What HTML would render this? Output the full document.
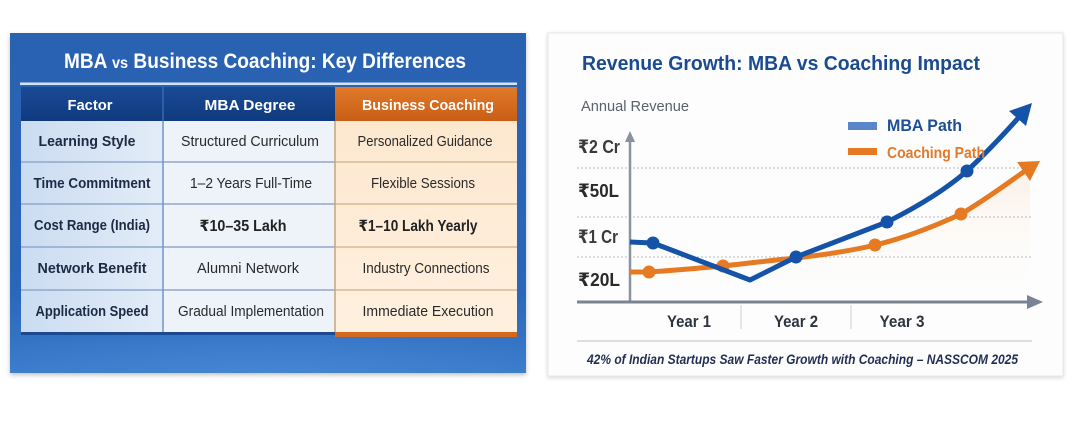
<!DOCTYPE html>
<html><head><meta charset="utf-8">
<style>
html,body{margin:0;padding:0;background:#fff;width:1075px;height:431px;overflow:hidden;}
svg{display:block;}
text{font-family:"Liberation Sans","DejaVu Sans",sans-serif;}
</style></head>
<body>
<svg width="1075" height="431" viewBox="0 0 1075 431" xmlns="http://www.w3.org/2000/svg">
<defs>
  <linearGradient id="lp" x1="0" y1="0" x2="0" y2="1">
    <stop offset="0" stop-color="#2a62b2"/>
    <stop offset="0.75" stop-color="#2a66b9"/>
    <stop offset="1" stop-color="#3a7bcb"/>
  </linearGradient>
  <radialGradient id="glow" cx="0.5" cy="1" r="0.6">
    <stop offset="0" stop-color="#4a8ad6" stop-opacity="0.7"/>
    <stop offset="1" stop-color="#4a8ad6" stop-opacity="0"/>
  </radialGradient>
  <linearGradient id="hdrB" x1="0" y1="0" x2="0" y2="1">
    <stop offset="0" stop-color="#1a4a95"/>
    <stop offset="1" stop-color="#103a7f"/>
  </linearGradient>
  <linearGradient id="hdrO" x1="0" y1="0" x2="0" y2="1">
    <stop offset="0" stop-color="#e07a2a"/>
    <stop offset="1" stop-color="#c95e16"/>
  </linearGradient>
  <linearGradient id="c1" x1="0" y1="0" x2="1" y2="0">
    <stop offset="0" stop-color="#cbdcf1"/>
    <stop offset="1" stop-color="#e3ecf8"/>
  </linearGradient>
  <linearGradient id="c3" x1="0" y1="0" x2="0" y2="1">
    <stop offset="0" stop-color="#fde8cf"/>
    <stop offset="1" stop-color="#fff0df"/>
  </linearGradient>
  <linearGradient id="peach" x1="0" y1="0" x2="0" y2="1">
    <stop offset="0" stop-color="#fbe1c6" stop-opacity="0.45"/>
    <stop offset="1" stop-color="#ffffff" stop-opacity="0"/>
  </linearGradient>
  <filter id="sh" x="-5%" y="-5%" width="110%" height="115%">
    <feDropShadow dx="0" dy="2" stdDeviation="2.5" flood-color="#000" flood-opacity="0.25"/>
  </filter>
  <filter id="sh2" x="-5%" y="-5%" width="110%" height="115%">
    <feDropShadow dx="0" dy="1.5" stdDeviation="2" flood-color="#000" flood-opacity="0.15"/>
  </filter>
</defs>

<!-- LEFT PANEL -->
<rect x="10" y="33" width="516" height="340" fill="url(#lp)" filter="url(#sh)"/>
<rect x="10" y="290" width="516" height="83" fill="url(#glow)"/>
<text x="265" y="68" font-size="21" font-weight="bold" fill="#ffffff" text-anchor="middle" textLength="402" lengthAdjust="spacingAndGlyphs">MBA <tspan font-size="16">vs</tspan> Business Coaching: Key Differences</text>
<rect x="20" y="82.5" width="497" height="2.5" fill="#d4e4f7"/>

<!-- header -->
<rect x="21" y="87" width="314" height="34" fill="url(#hdrB)"/>
<rect x="335" y="87" width="182" height="34" fill="url(#hdrO)"/>
<line x1="163" y1="87" x2="163" y2="121" stroke="#3a68ad" stroke-width="1.5"/>
<text x="90" y="110" font-size="15" font-weight="bold" fill="#fff" text-anchor="middle" textLength="45" lengthAdjust="spacingAndGlyphs">Factor</text>
<text x="250" y="110" font-size="15" font-weight="bold" fill="#fff" text-anchor="middle" textLength="91" lengthAdjust="spacingAndGlyphs">MBA Degree</text>
<text x="428" y="110" font-size="15" font-weight="bold" fill="#fff" text-anchor="middle" textLength="132" lengthAdjust="spacingAndGlyphs">Business Coaching</text>

<!-- body columns -->
<rect x="21" y="121" width="142" height="211" fill="url(#c1)"/>
<rect x="163" y="121" width="172" height="211" fill="#eef2f9"/>
<rect x="335" y="121" width="182" height="211" fill="url(#c3)"/>
<g stroke="#8ea8cf" stroke-width="1.5">
  <line x1="21" y1="162" x2="335" y2="162"/>
  <line x1="21" y1="204" x2="335" y2="204"/>
  <line x1="21" y1="247" x2="335" y2="247"/>
  <line x1="21" y1="290" x2="335" y2="290"/>
</g>
<g stroke="#d8b994" stroke-width="1.5">
  <line x1="335" y1="162" x2="517" y2="162"/>
  <line x1="335" y1="204" x2="517" y2="204"/>
  <line x1="335" y1="247" x2="517" y2="247"/>
  <line x1="335" y1="290" x2="517" y2="290"/>
</g>
<line x1="163" y1="121" x2="163" y2="332" stroke="#7096c9" stroke-width="1.5"/>
<line x1="335" y1="121" x2="335" y2="332" stroke="#c8a47c" stroke-width="1.5"/>
<rect x="21" y="332" width="314" height="3" fill="#1c4a90"/>
<rect x="335" y="332" width="182" height="5" fill="#d2691e"/>

<!-- row text -->
<g font-size="14.5" fill="#1c2a44" font-weight="bold" text-anchor="middle">
  <text x="87" y="146" textLength="97" lengthAdjust="spacingAndGlyphs">Learning Style</text>
  <text x="92" y="188" textLength="117" lengthAdjust="spacingAndGlyphs">Time Commitment</text>
  <text x="92" y="230" textLength="116" lengthAdjust="spacingAndGlyphs">Cost Range (India)</text>
  <text x="92" y="273" textLength="109" lengthAdjust="spacingAndGlyphs">Network Benefit</text>
  <text x="92" y="316" textLength="113" lengthAdjust="spacingAndGlyphs">Application Speed</text>
</g>
<g font-size="14.5" fill="#2a2a2a" text-anchor="middle">
  <text x="250" y="146" textLength="138" lengthAdjust="spacingAndGlyphs">Structured Curriculum</text>
  <text x="251" y="188" textLength="122" lengthAdjust="spacingAndGlyphs">1–2 Years Full-Time</text>
  <text x="248" y="273" textLength="102" lengthAdjust="spacingAndGlyphs">Alumni Network</text>
  <text x="251" y="316" textLength="146" lengthAdjust="spacingAndGlyphs">Gradual Implementation</text>
  <text x="425" y="146" textLength="135" lengthAdjust="spacingAndGlyphs">Personalized Guidance</text>
  <text x="423" y="188" textLength="104" lengthAdjust="spacingAndGlyphs">Flexible Sessions</text>
  <text x="426" y="273" textLength="127" lengthAdjust="spacingAndGlyphs">Industry Connections</text>
  <text x="428" y="316" textLength="131" lengthAdjust="spacingAndGlyphs">Immediate Execution</text>
</g>
<g font-size="15.5" fill="#222" font-weight="bold" text-anchor="middle">
  <text x="243" y="231" textLength="87" lengthAdjust="spacingAndGlyphs">₹10–35 Lakh</text>
  <text x="418" y="231" textLength="119" lengthAdjust="spacingAndGlyphs">₹1–10 Lakh Yearly</text>
</g>

<!-- RIGHT PANEL -->
<rect x="548" y="33" width="515" height="343" fill="#fdfdfd" stroke="#e4e6ea" stroke-width="1" filter="url(#sh2)"/>
<text x="582" y="70" font-size="20.5" font-weight="bold" fill="#1a4b91" textLength="398" lengthAdjust="spacingAndGlyphs">Revenue Growth: MBA vs Coaching Impact</text>
<text x="581" y="111" font-size="15" fill="#5a606c" textLength="108" lengthAdjust="spacingAndGlyphs">Annual Revenue</text>

<path d="M630,272 L649,272 C680,270 700,268 723,266 C750,263 775,260 796,258 C830,254 855,250 875,245 C905,238 935,226 961,214 L1030,168 L1030,302 L630,302 Z" fill="url(#peach)"/>

<g stroke="#b8bcc4" stroke-width="1" stroke-dasharray="2,2">
  <line x1="577" y1="168" x2="1033" y2="168"/>
  <line x1="577" y1="217" x2="1033" y2="217"/>
  <line x1="577" y1="257" x2="1033" y2="257"/>
</g>

<line x1="630" y1="302" x2="630" y2="140" stroke="#8a92a0" stroke-width="2.5"/>
<polygon points="630,131 625,142 635,142" fill="#8a92a0"/>
<line x1="577" y1="302" x2="1030" y2="302" stroke="#7a8394" stroke-width="3"/>
<polygon points="1043,302 1027,295 1027,309" fill="#7a8394"/>
<g stroke="#d4d7dd" stroke-width="1.2">
  <line x1="741" y1="305" x2="741" y2="329"/>
  <line x1="851" y1="305" x2="851" y2="329"/>
</g>

<g fill="#2a2a2a" font-size="18.5" font-weight="bold">
  <text x="578" y="153" fill="#3a3a3a" textLength="42" lengthAdjust="spacingAndGlyphs">₹2 Cr</text>
  <text x="578" y="197" textLength="41" lengthAdjust="spacingAndGlyphs">₹50L</text>
  <text x="578" y="243" fill="#3a3a3a" textLength="40" lengthAdjust="spacingAndGlyphs">₹1 Cr</text>
  <text x="578" y="286" textLength="42" lengthAdjust="spacingAndGlyphs">₹20L</text>
</g>

<g fill="#2f3540" font-size="16.5" font-weight="bold" text-anchor="middle">
  <text x="689" y="327" textLength="44" lengthAdjust="spacingAndGlyphs">Year 1</text>
  <text x="796" y="327" textLength="44" lengthAdjust="spacingAndGlyphs">Year 2</text>
  <text x="902" y="327" textLength="45" lengthAdjust="spacingAndGlyphs">Year 3</text>
</g>

<path d="M630,272 L649,272 C680,270 700,268 723,266 C750,263 775,260 796,258 C830,254 855,250 875,245 C905,238 935,226 961,214 C985,200 1005,185 1025,171" fill="none" stroke="#e67a22" stroke-width="5" stroke-linejoin="round"/>
<polygon points="1040,161 1017,162 1030,181" fill="#e67a22"/>
<g fill="#e67a22">
  <circle cx="649" cy="272" r="6.5"/>
  <circle cx="723" cy="266" r="6.5"/>
  <circle cx="875" cy="245" r="6.5"/>
  <circle cx="961" cy="214" r="6.5"/>
</g>

<path d="M630,242 L653,243 L750,280 L796,257 L887,222 C915,208 945,190 967,171 C985,154 1005,133 1020,116" fill="none" stroke="#1453a8" stroke-width="5" stroke-linejoin="round"/>
<polygon points="1032,103 1009,111 1026,126" fill="#1453a8"/>
<g fill="#1453a8">
  <circle cx="653" cy="243" r="6.5"/>
  <circle cx="796" cy="257" r="6.5"/>
  <circle cx="887" cy="222" r="6.5"/>
  <circle cx="967" cy="171" r="6.5"/>
</g>

<rect x="848" y="122" width="29" height="8" fill="#5b86c8"/>
<text x="887" y="131" font-size="17" font-weight="bold" fill="#1d4f96" textLength="75" lengthAdjust="spacingAndGlyphs">MBA Path</text>
<rect x="848" y="148" width="29" height="7" fill="#e67a22"/>
<text x="887" y="158" font-size="16" font-weight="bold" fill="#e07a2a" textLength="98" lengthAdjust="spacingAndGlyphs">Coaching Path</text>

<line x1="577" y1="341" x2="1032" y2="341" stroke="#c9ccd3" stroke-width="1.2"/>
<text x="587" y="364" font-size="14" font-style="italic" font-weight="bold" fill="#1f2e52" textLength="431" lengthAdjust="spacingAndGlyphs">42% of Indian Startups Saw Faster Growth with Coaching – NASSCOM 2025</text>
</svg>
</body></html>
